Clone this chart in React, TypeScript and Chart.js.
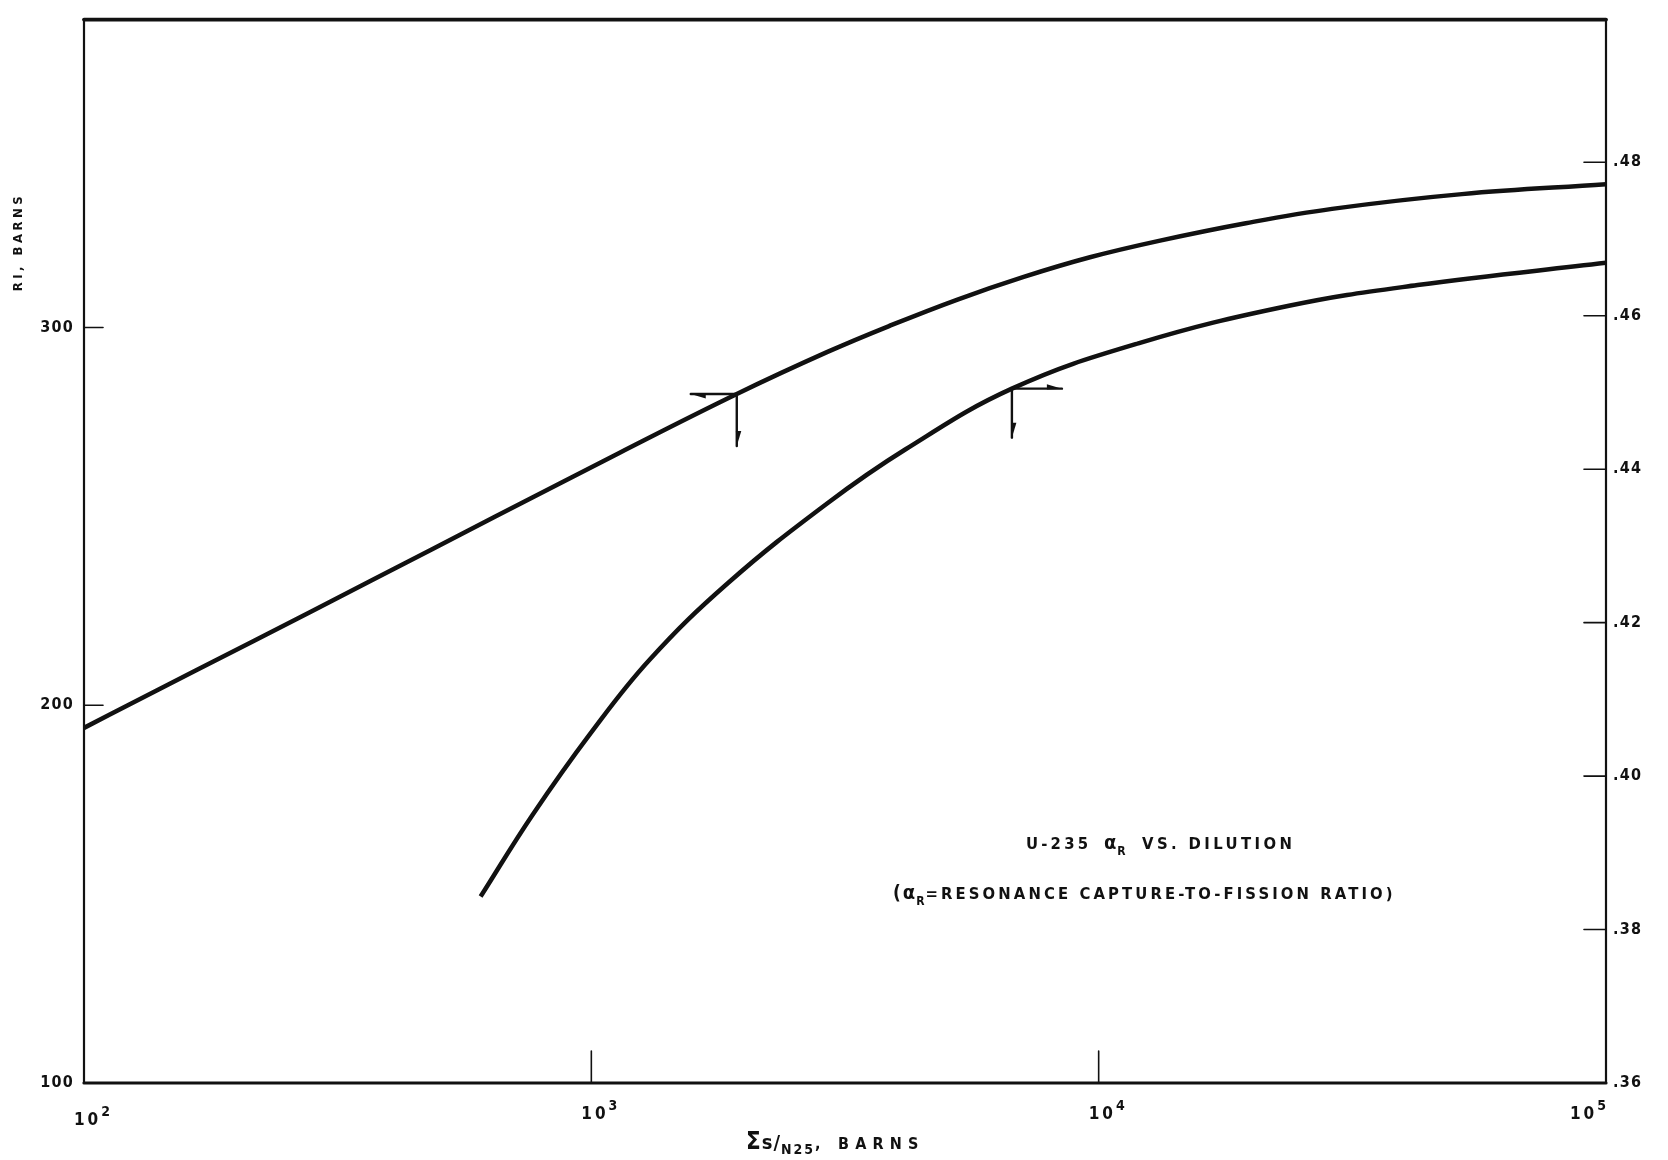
import React, { useEffect, useRef } from 'react';
import { Chart, registerables } from 'chart.js';

Chart.register(...registerables);

// ---- data ----
const riDilution = [100, 127, 216, 366, 644, 1135, 1935, 2928, 3899, 5270, 7116, 9613, 13213, 19500, 28840, 52000, 100000];
const riBarns = [194.0, 201.2, 217.0, 232.8, 249.8, 266.8, 282.4, 293.6, 300.6, 307.4, 313.4, 318.6, 323.0, 327.6, 331.4, 335.3, 337.9];

const alphaDilution = [605, 765, 997, 1304, 1862, 2911, 4164, 6745, 11972, 23714, 42530, 100000];
const alphaR = [0.3843, 0.3949, 0.4056, 0.4152, 0.4252, 0.4355, 0.4426, 0.4505, 0.4564, 0.4613, 0.4640, 0.4669];

const xTicks = [100, 1000, 10000, 100000];
const xTickBase = ['10', '10', '10', '10'];
const xTickExp = ['2', '3', '4', '5'];
const riTicks = [100, 200, 300];
const riTickLabels = ['100', '200', '300'];
const alphaTicks = [0.36, 0.38, 0.4, 0.42, 0.44, 0.46, 0.48];
const alphaTickLabels = ['.36', '.38', '.40', '.42', '.44', '.46', '.48'];

const RI_MIN = 100;
const RI_MAX = 381.5;
const ALPHA_MIN = 0.36;
const ALPHA_MAX = 0.4986;
const X_MIN = 100;
const X_MAX = 100000;

const INK = '#111';
const FONT = "'DejaVu Sans Condensed', 'DejaVu Sans', sans-serif";
const TICK_FONT = "'Liberation Sans Narrow', 'DejaVu Sans Condensed', 'DejaVu Sans', sans-serif";

type Part = { t: string; size: number; dy?: number; ls?: number; fam?: string };

function partsWidth(ctx: CanvasRenderingContext2D, parts: Part[]) {
  let w = 0;
  for (const p of parts) {
    ctx.font = `bold ${p.size}px ${p.fam ?? FONT}`;
    (ctx as any).letterSpacing = `${p.ls ?? 3}px`;
    w += ctx.measureText(p.t).width;
  }
  return w;
}

function drawParts(ctx: CanvasRenderingContext2D, x: number, y: number, parts: Part[]) {
  let cx = x;
  for (const p of parts) {
    ctx.font = `bold ${p.size}px ${p.fam ?? FONT}`;
    (ctx as any).letterSpacing = `${p.ls ?? 3}px`;
    ctx.fillText(p.t, cx, y + (p.dy ?? 0));
    cx += ctx.measureText(p.t).width;
  }
}

function line(ctx: CanvasRenderingContext2D, x0: number, y0: number, x1: number, y1: number) {
  ctx.beginPath();
  ctx.moveTo(x0, y0);
  ctx.lineTo(x1, y1);
  ctx.stroke();
}

function arrow(ctx: CanvasRenderingContext2D, x0: number, y0: number, x1: number, y1: number) {
  line(ctx, x0, y0, x1, y1);
  const ang = Math.atan2(y1 - y0, x1 - x0);
  const len = 15;
  const hw = 4.5;
  const bx = x1 - Math.cos(ang) * len;
  const by = y1 - Math.sin(ang) * len;
  const px = -Math.sin(ang) * hw;
  const py = Math.cos(ang) * hw;
  ctx.beginPath();
  ctx.moveTo(x1, y1);
  ctx.lineTo(bx - px, by - py);
  ctx.lineTo(bx + px * 0.2, by + py * 0.2);
  ctx.closePath();
  ctx.fill();
}

const decorPlugin = {
  id: 'refDecor',
  beforeDraw(chart: any) {
    const ctx = chart.ctx as CanvasRenderingContext2D;
    ctx.save();
    ctx.fillStyle = '#fff';
    ctx.fillRect(0, 0, chart.width, chart.height);
    ctx.restore();
    (ctx as any).letterSpacing = '1.2px';
  },
  afterDraw(chart: any) {
    const ctx = chart.ctx as CanvasRenderingContext2D;
    const a = chart.chartArea;
    const { x, y, y1 } = chart.scales;
    ctx.save();
    ctx.strokeStyle = INK;
    ctx.fillStyle = INK;
    ctx.lineCap = 'round';

    // frame
    ctx.lineWidth = 2.2;
    line(ctx, a.left, a.top, a.left, a.bottom);
    line(ctx, a.right, a.top, a.right, a.bottom);
    ctx.lineWidth = 3.8;
    line(ctx, a.left, a.top, a.right, a.top);
    ctx.lineWidth = 3.2;
    line(ctx, a.left, a.bottom, a.right, a.bottom);

    // inward tick marks
    ctx.lineWidth = 1.6;
    riTicks.forEach((v) => {
      if (v === RI_MIN) return;
      const py = y.getPixelForValue(v);
      line(ctx, a.left, py, a.left + 19, py);
    });
    alphaTicks.forEach((v) => {
      if (v === ALPHA_MIN) return;
      const py = y1.getPixelForValue(v);
      line(ctx, a.right - 22, py, a.right, py);
    });
    xTicks.forEach((v) => {
      if (v === X_MIN || v === X_MAX) return;
      const px = x.getPixelForValue(v);
      line(ctx, px, a.bottom, px, a.bottom - 32);
    });

    // x tick labels: 10 with raised exponent
    ctx.textBaseline = 'alphabetic';
    ctx.textAlign = 'left';
    xTicks.forEach((v, i) => {
      const px = x.getPixelForValue(v);
      const parts: Part[] = [
        { t: xTickBase[i], size: 17, ls: 3, fam: TICK_FONT },
        { t: xTickExp[i], size: 14, dy: -9, ls: 0, fam: TICK_FONT },
      ];
      const w = partsWidth(ctx, parts);
      const left = i === xTicks.length - 1 ? px - w : px - w / 2 + 8;
      drawParts(ctx, left, a.bottom + 42 - (i === 0 ? 0 : 6), parts);
    });

    // arrows pointing to the axes each curve belongs to
    ctx.lineWidth = 2.4;
    const p0 = chart.getDatasetMeta(0).data[6];
    if (p0) {
      arrow(ctx, p0.x, p0.y, p0.x - 46, p0.y);
      arrow(ctx, p0.x, p0.y, p0.x, p0.y + 52);
    }
    const p1 = chart.getDatasetMeta(1).data[7];
    if (p1) {
      arrow(ctx, p1.x, p1.y, p1.x + 50, p1.y);
      arrow(ctx, p1.x, p1.y, p1.x, p1.y + 49);
    }

    // annotation text
    drawParts(ctx, 1026, 849, [{ t: 'U-235', size: 16.5, ls: 3.2 }]);
    drawParts(ctx, 1104, 849, [
      { t: 'α', size: 20, ls: 1 },
      { t: 'R', size: 12, dy: 6, ls: 1 },
    ]);
    drawParts(ctx, 1142, 849, [{ t: 'VS. DILUTION', size: 16.5, ls: 3.4 }]);
    drawParts(ctx, 893, 899, [
      { t: '(', size: 19, ls: 2 },
      { t: 'α', size: 20, ls: 1 },
      { t: 'R', size: 12, dy: 6, ls: 1 },
      { t: '=RESONANCE CAPTURE-TO-FISSION RATIO)', size: 16.5, ls: 3.1 },
    ]);

    // x axis title
    drawParts(ctx, 746, 1149, [
      { t: 'Σ', size: 24, ls: 1 },
      { t: 's/', size: 20, ls: 1 },
      { t: 'N25', size: 14, dy: 5, ls: 2 },
      { t: ', BARNS', size: 16, ls: 6.2 },
    ]);

    // left axis title
    ctx.save();
    ctx.translate(19, 242);
    ctx.rotate(-Math.PI / 2);
    ctx.textAlign = 'center';
    ctx.textBaseline = 'middle';
    ctx.font = `bold 13px ${FONT}`;
    (ctx as any).letterSpacing = '3.5px';
    ctx.fillText('RI, BARNS', 0, 0);
    ctx.restore();

    ctx.restore();
  },
};

export default function App() {
  const ref = useRef<HTMLCanvasElement | null>(null);

  useEffect(() => {
    document.body.style.margin = '0';
    const canvas = ref.current;
    if (!canvas) return;
    const tickFont = { family: TICK_FONT, size: 16, weight: 'bold' as const };
    const lineStyle = {
      borderColor: INK,
      borderWidth: 4.5,
      pointRadius: 0,
      tension: 0.4,
      fill: false,
    };
    const chart = new Chart(canvas, {
      type: 'line',
      data: {
        datasets: [
          {
            label: 'RI, barns',
            data: riDilution.map((v, i) => ({ x: v, y: riBarns[i] })),
            yAxisID: 'y',
            ...lineStyle,
          },
          {
            label: 'alpha R',
            data: alphaDilution.map((v, i) => ({ x: v, y: alphaR[i] })),
            yAxisID: 'y1',
            ...lineStyle,
          },
        ],
      },
      options: {
        responsive: false,
        animation: false,
        devicePixelRatio: 1,
        layout: { padding: { top: 13, left: 0, right: 0, bottom: 0 } },
        plugins: {
          legend: { display: false },
          tooltip: { enabled: false },
          title: { display: false },
        },
        scales: {
          x: {
            type: 'logarithmic',
            position: 'bottom',
            min: X_MIN,
            max: X_MAX,
            afterBuildTicks: (s: any) => {
              s.ticks = xTicks.map((v) => ({ value: v }));
            },
            afterFit: (s: any) => {
              s.height = 77;
            },
            grid: { display: false, drawTicks: false },
            border: { display: false },
            ticks: { display: false },
          },
          y: {
            type: 'linear',
            position: 'left',
            min: RI_MIN,
            max: RI_MAX,
            afterBuildTicks: (s: any) => {
              s.ticks = riTicks.map((v) => ({ value: v }));
            },
            afterFit: (s: any) => {
              s.width = 84;
            },
            grid: { display: false, drawTicks: false },
            border: { display: false },
            ticks: {
              padding: 10,
              color: INK,
              font: tickFont,
              callback: (value: any) => {
                const i = riTicks.indexOf(Number(value));
                return i >= 0 ? riTickLabels[i] : '';
              },
            },
          },
          y1: {
            type: 'linear',
            position: 'right',
            min: ALPHA_MIN,
            max: ALPHA_MAX,
            afterBuildTicks: (s: any) => {
              s.ticks = alphaTicks.map((v) => ({ value: v }));
            },
            afterFit: (s: any) => {
              s.width = 62;
            },
            grid: { display: false, drawTicks: false },
            border: { display: false },
            ticks: {
              padding: 7,
              color: INK,
              font: tickFont,
              callback: (value: any) => {
                const v = Number(value);
                const i = alphaTicks.findIndex((t) => Math.abs(t - v) < 1e-9);
                return i >= 0 ? alphaTickLabels[i] : '';
              },
            },
          },
        },
      },
      plugins: [decorPlugin],
    });
    return () => chart.destroy();
  }, []);

  return (
    <div style={{ width: 1668, height: 1160, background: '#fff' }}>
      <canvas ref={ref} width={1668} height={1160} style={{ display: 'block' }} />
    </div>
  );
}
